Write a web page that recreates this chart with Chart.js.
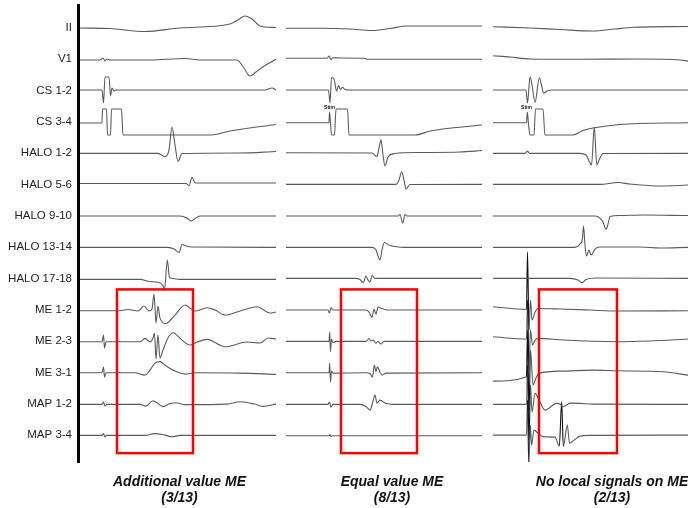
<!DOCTYPE html>
<html>
<head>
<meta charset="utf-8">
<script src="https://cdn.jsdelivr.net/npm/chart.js@4.4.1/dist/chart.umd.min.js"></script>
<style>
  html, body { margin: 0; padding: 0; background: #fff; }
  #wrap { width: 688px; height: 508px; }
</style>
</head>
<body>
<div id="wrap"><canvas id="egm" width="688" height="508"></canvas></div>
<script>
// channel names, top to bottom
const channelNames = ['II', 'V1', 'CS 1-2', 'CS 3-4', 'HALO 1-2', 'HALO 5-6', 'HALO 9-10',
    'HALO 13-14', 'HALO 17-18', 'ME 1-2', 'ME 2-3', 'ME 3-1', 'MAP 1-2', 'MAP 3-4'];

// three recordings side by side: [t, amplitude] points, one list per recording
const chII = [
    [[2,0],[32,-0.5],[67,-3.5],[102,0],[152,4],[160,8],[167,12],[174,9],[182,2],[198,0.5]],
    [[208,-0.3],[242,-0.3],[272,-1],[294,-2.5],[312,-0.5],[329,2],[404,2]],
    [[415,1.3],[452,0],[482,-1.5],[515,-3],[537,-1],[555,0.7],[610,1.5]]
];
const chV1 = [
    [[2,-0.7],[22,-0.7],[25,1.3],[27,-1.7],[29,0.3],[32,-0.7],[72,-0.7],[107,0.8],[122,-0.7],[159,-0.7],[166,-8.7],[172,-16.7],[178,-12.7],[185,-7.4],[198,0]],
    [[208,1],[249,1],[251,3.3],[253,-0.2],[255,1.5],[262,1.3],[287,1],[289,0],[404,0]],
    [[415,3.6],[432,2.3],[452,0.3],[502,0],[562,0.3],[602,-0.7],[610,-1.7]]
];
const chCS12 = [
    [[2,0.6],[24,0.6],[25.5,-12.4],[27,13.6],[31,13.6],[32.5,-5.4],[34,2.6],[36,-0.4],[38,0.6],[187,0.6],[194,2.6],[198,0.6]],
    [[208,0.6],[250.5,0.6],[252,-12.4],[253.5,13.1],[256,11.6],[258.5,-0.4],[260.5,5.1],[262.5,1.1],[264.5,3.3],[267,1.1],[272,0.6],[404,0.6]],
    [[415,0.6],[448,0.6],[449.5,-12.4],[452,13.6],[454,5.6],[457,-11.9],[461.3,12.9],[463.5,5.6],[465.5,-2.4],[469,-0.4],[474,0.6],[610,0.6]]
];
const chCS34 = [
    [[2,-1.1],[24,-1.1],[24.5,12.9],[28.5,12.9],[29.5,-13.1],[32.5,-13.1],[33.5,12.9],[43.5,12.9],[45,-13.1],[133,-13.1],[152,-9.1],[198,-2.6]],
    [[208,-0.8],[251,-0.8],[251.5,9.9],[252.5,-1.1],[253.5,-13.1],[256.5,-13.1],[258,12.9],[269.5,12.9],[271,-13.1],[337,-13.1],[352,-9.1],[404,-3.1]],
    [[415,-0.8],[448.5,-0.8],[449.3,9.9],[450.5,-2.1],[452,-13.1],[456,-13.1],[457.5,12.9],[465,12.9],[467,-13.1],[495,-13.1],[505,-8.6],[515,-6.1],[542,-2.6],[610,-0.8]]
];
const chHALO12 = [
    [[2,-0.1],[80,-0.1],[87,-3.3],[91,3.2],[94,26.2],[97,8.2],[100,-8.3],[104,-0.3],[162,0.2],[198,1.7]],
    [[208,0.5],[294,0.2],[299,-3.3],[301,5.2],[303,13.2],[305,-1.8],[307,-12.8],[310,-3.8],[317,-0.3],[342,0.7],[382,1.2],[404,2.7]],
    [[415,-0.1],[447,-0.1],[449.5,2.2],[451.5,-0.1],[502,-0.1],[508,-1.8],[512,-9.8],[513.5,-11.8],[516.3,26.2],[518.8,-11.8],[521,-6.8],[525,-0.3],[610,-0.1]]
];
const chHALO56 = [
    [[2,1],[108,1],[111,-1],[114,7.2],[117,1.5],[198,1.5]],
    [[208,0.2],[318,0.2],[321,4.5],[323.7,12.8],[326,4.5],[328,-4.5],[332,0],[404,0.2]],
    [[415,0.2],[522,0.2],[540,2],[552,0.5],[582,-1.5],[610,-0.5]]
];
const chHALO910 = [
    [[2,-0.2],[102,-0.2],[109,-2.2],[113,-5.2],[117,-2.7],[122,-0.2],[198,-0.2]],
    [[208,-0.2],[320,-0.2],[322,1.3],[324.7,-7.2],[327,1.3],[329,-0.2],[404,-0.2]],
    [[415,-0.2],[517,-0.2],[522,-2.2],[525,-6.2],[528,-13.5],[530,-8.2],[532,-0.7],[542,0.3],[565,0.8],[610,0.3]]
];
const chHALO1314 = [
    [[2,-0.2],[90,-0.2],[96,-1.9],[101,-5.4],[104,2.6],[108,1.1],[114,0.1],[198,-0.2]],
    [[208,-0.2],[294,-0.2],[298,-2.9],[300,-8.9],[302,-12.9],[304,-2.9],[306.3,4.6],[312,1.6],[327,-0.2],[404,-0.2]],
    [[415,-0.2],[497,-0.2],[502,3.1],[504.5,9.1],[505.5,21.1],[507,2.1],[508.5,-8.9],[511,-2.9],[513,-7.9],[517,-1.9],[522,0.1],[562,0.1],[582,-0.9],[610,-0.2]]
];
const chHALO1718 = [
    [[2,-0.9],[62,-0.9],[72,-3.1],[79,-3.6],[85,-7.1],[86.5,-11.6],[89.3,18.4],[91.5,0.9],[95,-0.1],[102,-0.9],[198,-0.9]],
    [[208,0.1],[277,0.1],[282,-1.1],[285.3,-4.3],[288,2.4],[290,-1.6],[292,-3.6],[294,2.9],[297,0.1],[404,0.1]],
    [[415,0.1],[492,0.1],[500,-1.6],[504,-4.3],[508,-1.1],[517,0.4],[610,0.1]]
];
const chME12 = [
    [[2,-1],[40,-1],[50,0.2],[60,-1.3],[66,3.7],[71,-1.3],[74,0.7],[76,15.7],[78,-13.3],[80,3.7],[82,-8.3],[88,-13.8],[97,-5.3],[107,4.7],[117,-1.3],[129,2],[137,-0.3],[147,-5.3],[162,-1.3],[179,3],[192,-3.3],[198,-2.3]],
    [[208,-0.3],[250,-0.3],[251.5,-3.3],[253,2.2],[255,-0.3],[288,-0.3],[291,-2.3],[294,-7.6],[296,0.7],[298,-4.3],[300,2.7],[304,1.2],[309,-0.3],[404,-0.3]],
    [[415,3],[448.5,0.4],[449.5,57.7],[451,-20.3],[452.5,9.7],[454,-10.3],[457,-2.3],[460,1.2],[482,0.7],[512,-0.3],[539,-1.3],[610,-1]]
];
const chME23 = [
    [[2,-0.7],[24,-0.7],[25.5,6],[26.5,-7],[28,-0.7],[62,-0.7],[67,2.7],[72,-1],[75,3],[76.5,8],[78,-18],[80,6],[82,-17],[85,-9],[90,3],[95,8.3],[104,1],[112,-4],[119,-1],[129,1.7],[147,-5.7],[169,-1],[182,-2],[190,3],[198,2]],
    [[208,-0.3],[251,-0.3],[251.7,9],[252.5,-10.5],[253.5,2],[255,-1.5],[258,-0.3],[288,-0.3],[291,2.5],[293,0],[295,1],[298,-2],[300,-0.5],[303,-3],[306,-0.3],[404,-0.3]],
    [[415,4.3],[448.5,2],[449.5,41],[451,-29],[452.5,11],[454.5,-4],[457,1],[460.3,2.7],[485,1],[539,-0.7],[572,0],[610,2]]
];
const chME31 = [
    [[2,-0.4],[24,-0.4],[25.5,5.3],[26.5,-4.7],[28,-0.4],[57,-0.4],[67,-2.7],[72,2.3],[77,9.3],[82,10.8],[87,7.3],[97,1.3],[107,-1.7],[117,-0.4],[162,-0.7],[198,-2]],
    [[208,-0.4],[251,-0.4],[251.7,9.3],[252.5,-9.7],[253.5,1.3],[255,-0.7],[288,-0.4],[292,-1.2],[294.5,-4.7],[296.3,7.3],[298,0.8],[299.3,5.6],[302,0.3],[304,-2.7],[308,-0.7],[404,-0.4]],
    [[415,-8.7],[448.5,-4.4],[449.5,42.3],[451,-37.7],[452.5,22.3],[455,-12.7],[458,-5.7],[461,-1],[485,1.3],[515,2.3],[539,1.6],[585,0.6],[610,-2.7]]
];
const chMAP12 = [
    [[2,-0.7],[24,-0.7],[25.5,1.6],[27,-2.4],[28.5,-0.7],[62,-0.7],[68,-2.4],[75,2.9],[85,-2.9],[92,0.1],[98,0.9],[107,-0.9],[149,-0.4],[162,1.9],[177,-0.4],[185,-2.7],[198,-0.4]],
    [[208,-0.7],[250,-0.7],[251.5,1.6],[253,-3.4],[255,-0.7],[282,-0.7],[288,-2.9],[292,-6.4],[295,2.6],[297,8.6],[299,0.6],[302,3.6],[308,0.1],[315,-0.7],[404,-0.7]],
    [[415,-0.7],[448.5,-0.7],[449.5,38.6],[451,-36.4],[452.5,18.6],[454,-8.4],[457,10.3],[462,1.6],[467,-6.4],[478.7,0.3],[482,-0.4],[485.3,-3.1],[492,0.6],[502,0.3],[515,-0.4],[610,-0.7]]
];
const chMAP34 = [
    [[2,-0.4],[24,-0.4],[25.5,1.4],[27,-2.1],[28.5,-0.4],[67,-0.4],[77,1.4],[87,-0.1],[94,-1.8],[102,-0.4],[198,-0.4]],
    [[208,-0.8],[251,-0.8],[252,0.4],[253,-1.6],[254,-0.8],[404,-0.8]],
    [[415,-0.1],[448.5,-0.1],[449.5,34.9],[450.8,-30.1],[452.3,9.9],[453.5,-10.1],[456,4.9],[460.3,1.6],[465.3,-1.8],[477,-2.1],[481.3,-11.1],[483.7,33.2],[485.3,-11.6],[489.3,9.9],[491.5,-8.1],[496,-5.1],[502,-1.1],[512,-0.4],[610,-0.1]]
];

const traces = [chII, chV1, chCS12, chCS34, chHALO12, chHALO56, chHALO910,
    chHALO1314, chHALO1718, chME12, chME23, chME31, chMAP12, chMAP34];

// red boxes around the ME / MAP channels: time span and channel span (fractional rows)
const boxTimes = [[39, 115], [263, 339], [461, 539]];
const boxRows = [8.35, 13.58];

// captions under each recording
const captionCenters = [101.5, 314, 534];
const captionTitles = ['Additional value ME', 'Equal value ME', 'No local signals on ME'];
const captionCounts = ['(3/13)', '(8/13)', '(2/13)'];

// pacing marks on CS 3-4
const stimTimes = [252.5, 449.5];

const SPACING = 31.3;
const rowValue = (row) => -row * SPACING;


const buildData = (panels, row) => {
    const out = [];
    panels.forEach((pts, i) => {
        if (i > 0) {
            out.push({x: pts[0][0] - 1, y: null});
        }
        pts.forEach(([t, a]) => out.push({x: t, y: rowValue(row) + a}));
    });
    return out;
};


const overlayPlugin = {
    id: 'overlay',
    afterDatasetsDraw(chart) {
        const {ctx, scales: {x, y}} = chart;

        // red boxes
        ctx.save();
        ctx.strokeStyle = '#ff0000';
        ctx.lineWidth = 2.5;
        boxTimes.forEach(([t0, t1]) => {
            const left = x.getPixelForValue(t0);
            const right = x.getPixelForValue(t1);
            const top = y.getPixelForValue(rowValue(boxRows[0]));
            const bottom = y.getPixelForValue(rowValue(boxRows[1]));
            ctx.strokeRect(left, top, right - left, bottom - top);
        });

        // stim labels
        ctx.fillStyle = '#111';
        ctx.font = 'bold 5px "Liberation Sans", Arial, sans-serif';
        ctx.textAlign = 'center';
        ctx.textBaseline = 'middle';
        stimTimes.forEach(t => {
            ctx.fillText('Stim', x.getPixelForValue(t - 1), y.getPixelForValue(rowValue(3) + 14));
        });
        ctx.restore();
    },
    afterDraw(chart) {
        const {ctx, chartArea, scales: {x}} = chart;
        ctx.save();
        ctx.fillStyle = '#111';
        ctx.font = 'italic bold 14px "Liberation Sans", Arial, sans-serif';
        ctx.textAlign = 'center';
        ctx.textBaseline = 'alphabetic';
        captionCenters.forEach((t, i) => {
            const cx = x.getPixelForValue(t);
            ctx.fillText(captionTitles[i], cx, chartArea.bottom + 24);
            ctx.fillText(captionCounts[i], cx, chartArea.bottom + 40);
        });
        ctx.restore();
    }
};


// stimulus artefacts (very steep jumps) look black in the recording
const artefactColor = (seg) => Math.abs(seg.p1.parsed.y - seg.p0.parsed.y) > 40 ? '#111' : undefined;

const datasets = traces.map((panels, row) => ({
    label: channelNames[row],
    data: buildData(panels, row),
    borderColor: '#5a5a5a',
    borderWidth: 1.1,
    pointRadius: 0,
    fill: false,
    spanGaps: false,
    cubicInterpolationMode: 'monotone',
    segment: {borderColor: artefactColor}
}));


new Chart(document.getElementById('egm'), {
    type: 'line',
    data: {datasets},
    options: {
        responsive: false,
        animation: false,
        layout: {padding: {top: 5, bottom: 46, left: 0, right: 0}},
        plugins: {legend: {display: false}, tooltip: {enabled: false}},
        scales: {
            x: {
                type: 'linear',
                display: false,
                min: 0,
                max: 610
            },
            y: {
                type: 'linear',
                min: rowValue(13) - 27,
                max: 23,
                afterFit: (scale) => {
                    scale.width = 78;
                    scale.paddingTop = 0;
                    scale.paddingBottom = 0;
                },
                afterBuildTicks: (scale) => {
                    scale.ticks = channelNames.map((_, row) => ({value: rowValue(row)}));
                },
                grid: {display: true, drawOnChartArea: false, drawTicks: false},
                border: {display: true, color: '#000', width: 3},
                ticks: {
                    autoSkip: false,
                    padding: 6,
                    color: '#222',
                    font: {family: '"Liberation Sans", Arial, sans-serif', size: 11.5},
                    callback: (value, index) => channelNames[index]
                }
            }
        }
    },
    plugins: [overlayPlugin]
});
</script>
</body>
</html>
